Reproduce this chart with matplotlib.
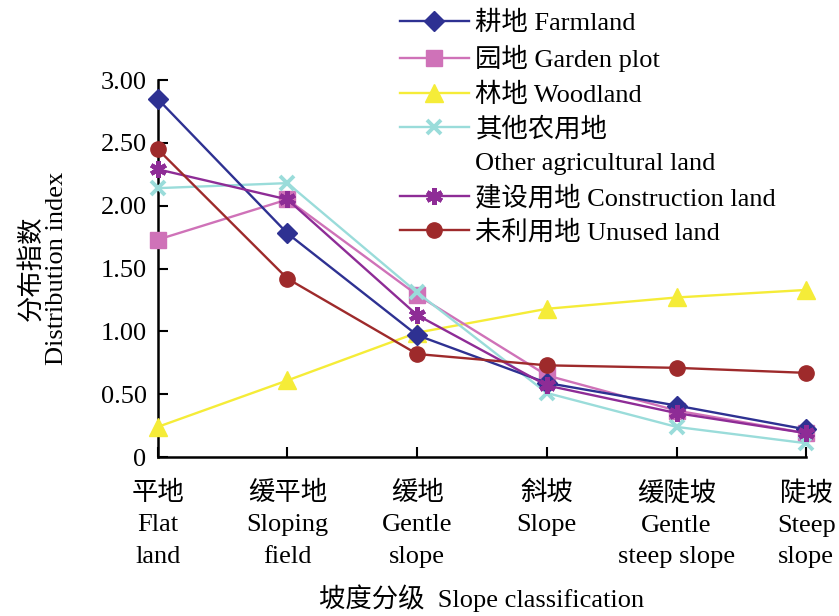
'''
Distribution index of land-use types across slope classes.
'''

import matplotlib
matplotlib.use("Agg")
import matplotlib.pyplot as plt
from matplotlib.lines import Line2D

plt.rcParams["font.family"] = ["Liberation Serif", "Noto Sans CJK SC"]

# categories on the x axis
slope_classes = [
    "平地\nFlat\nland",
    "缓平地\nSloping\nfield",
    "缓地\nGentle\nslope",
    "斜坡\nSlope",
    "缓陡坡\nGentle\nsteep slope",
    "陡坡\nSteep\nslope",
]

# distribution index per land type
farmland = [2.85, 1.78, 0.97, 0.59, 0.41, 0.22]
garden_plot = [1.73, 2.05, 1.29, 0.65, 0.37, 0.19]
woodland = [0.24, 0.61, 0.99, 1.18, 1.27, 1.33]
other_agri = [2.14, 2.18, 1.31, 0.51, 0.24, 0.11]
construction = [2.29, 2.05, 1.13, 0.57, 0.35, 0.19]
unused = [2.45, 1.42, 0.82, 0.73, 0.71, 0.67]

y_ticks = [0, 0.5, 1.0, 1.5, 2.0, 2.5, 3.0]
y_tick_labels = ["0", "0.50", "1.00", "1.50", "2.00", "2.50", "3.00"]

# line styles per series
styles = {
    "farmland": dict(color="#2E3192", marker="D", ms=10, lw=1.7),
    "garden": dict(color="#CF72B8", marker="s", ms=11, lw=1.7),
    "woodland": dict(color="#F5EC38", marker="^", ms=13, lw=1.7),
    "other": dict(color="#9ADCDA", marker="x", ms=10, mew=2.8, lw=1.7),
    "construction": dict(color="#8E2C96", marker=(6, 2, 0), ms=12, mew=3.2, lw=1.7),
    "unused": dict(color="#9E2A2B", marker="o", ms=11, lw=1.7),
}


def main():
    fig = plt.figure(figsize=(8.39, 6.16), dpi=100)
    ax = fig.add_axes([0.188, 0.258, 0.773, 0.612])

    x = list(range(len(slope_classes)))
    fs = 19

    ax.plot(x, farmland, clip_on=False, zorder=5, **styles["farmland"])
    ax.plot(x, garden_plot, clip_on=False, zorder=4, **styles["garden"])
    ax.plot(x, woodland, clip_on=False, zorder=3, **styles["woodland"])
    ax.plot(x, other_agri, clip_on=False, zorder=4, **styles["other"])
    ax.plot(x, construction, clip_on=False, zorder=5, **styles["construction"])
    ax.plot(x, unused, clip_on=False, zorder=6, **styles["unused"])

    ax.set_xlim(0, 5)
    ax.set_ylim(0, 3)
    ax.set_yticks(y_ticks)
    ax.set_yticklabels(y_tick_labels, fontsize=fs)
    ax.set_xticks(x)
    ax.set_xticklabels(slope_classes, fontsize=fs, linespacing=1.55, va="top")

    ax.tick_params(direction="in", length=7, width=1.5)
    ax.tick_params(axis="x", pad=17)
    ax.tick_params(axis="y", pad=8)
    ax.spines["top"].set_visible(False)
    ax.spines["right"].set_visible(False)
    ax.spines["left"].set_linewidth(1.8)
    ax.spines["bottom"].set_linewidth(1.8)

    ax.set_ylabel("分布指数\nDistribution index", fontsize=fs, linespacing=1.15)
    ax.yaxis.set_label_coords(-0.138, 0.5)
    ax.set_xlabel("坡度分级  Slope classification", fontsize=fs, labelpad=12)

    # legend, the second line of "other" goes on its own row with an empty handle
    handles = [
        Line2D([], [], **styles["farmland"]),
        Line2D([], [], **styles["garden"]),
        Line2D([], [], **styles["woodland"]),
        Line2D([], [], **styles["other"]),
        Line2D([], [], color="none"),
        Line2D([], [], **styles["construction"]),
        Line2D([], [], **styles["unused"]),
    ]
    labels = [
        "耕地 Farmland",
        "园地 Garden plot",
        "林地 Woodland",
        "其他农用地",
        "Other agricultural land",
        "建设用地 Construction land",
        "未利用地 Unused land",
    ]
    fig.legend(handles, labels, loc="upper left", bbox_to_anchor=(0.458, 1.008),
               frameon=False, fontsize=fs, handlelength=2.6, handletextpad=0.25,
               labelspacing=0.38, borderaxespad=0.2)

    fig.savefig("out.png", dpi=100)


if __name__ == "__main__":
    main()
